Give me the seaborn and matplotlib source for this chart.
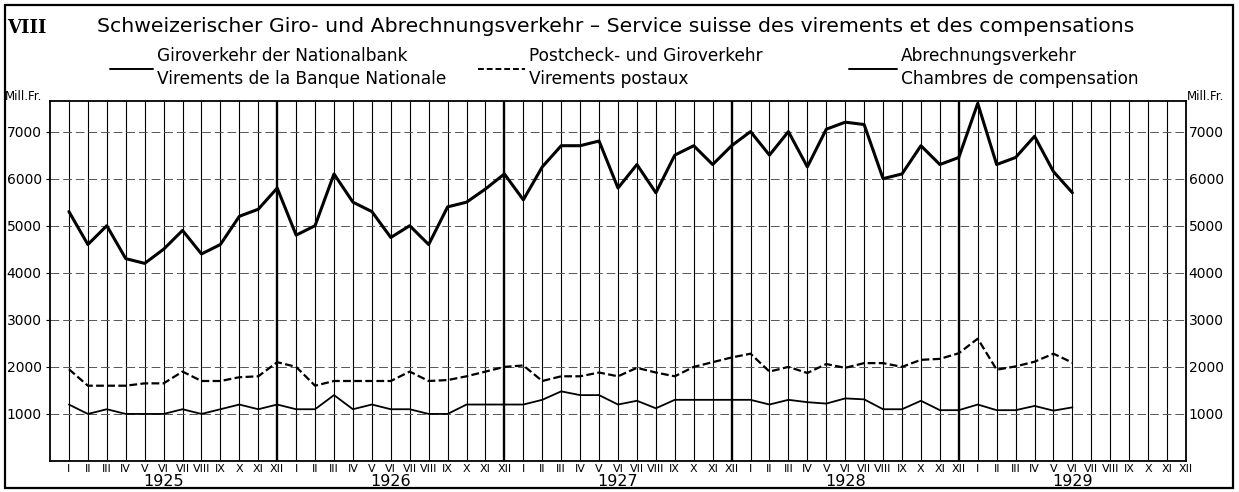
"""
Schweizerischer Giro- und Abrechnungsverkehr 1925-1929
monthly turnover, Mill. Fr.
"""

import numpy as np
import pandas as pd
import matplotlib
matplotlib.use("Agg")
import matplotlib.pyplot as plt
import seaborn as sns
from matplotlib.lines import Line2D
from matplotlib.patches import Rectangle

# -------------------------------
# DATA  (Jan 1925 - Jun 1929)
# -------------------------------
years = [1925, 1926, 1927, 1928, 1929]
months = ["I", "II", "III", "IV", "V", "VI", "VII", "VIII", "IX", "X", "XI", "XII"]

giro_nationalbank = [
    5300, 4600, 5000, 4300, 4200, 4500, 4900, 4400, 4600, 5200, 5350, 5800,
    4800, 5000, 6100, 5500, 5300, 4750, 5000, 4600, 5400, 5500, 5780, 6100,
    5550, 6250, 6700, 6700, 6800, 5800, 6300, 5700, 6500, 6700, 6300, 6700,
    7000, 6500, 7000, 6250, 7050, 7200, 7150, 6000, 6100, 6700, 6300, 6450,
    7600, 6300, 6450, 6900, 6150, 5700,
]

postcheck = [
    1950, 1600, 1600, 1600, 1650, 1650, 1900, 1700, 1700, 1780, 1800, 2100,
    2000, 1600, 1700, 1700, 1700, 1700, 1900, 1700, 1720, 1800, 1900, 2000,
    2030, 1700, 1800, 1800, 1880, 1800, 1980, 1880, 1800, 2000, 2100, 2200,
    2280, 1900, 2000, 1870, 2060, 1980, 2080, 2080, 2000, 2150, 2170, 2290,
    2600, 1940, 2010, 2110, 2280, 2090,
]

abrechnung = [
    1200, 1000, 1100, 1000, 1000, 1000, 1100, 1000, 1100, 1200, 1100, 1200,
    1100, 1100, 1400, 1100, 1200, 1100, 1100, 1000, 1000, 1200, 1200, 1200,
    1200, 1300, 1480, 1400, 1400, 1200, 1280, 1120, 1300, 1300, 1300, 1300,
    1300, 1200, 1300, 1250, 1220, 1330, 1310, 1100, 1100, 1280, 1080, 1080,
    1200, 1080, 1080, 1170, 1070, 1140,
]

y_ticks = [1000, 2000, 3000, 4000, 5000, 6000, 7000]

df = pd.DataFrame({
    "month": np.arange(len(giro_nationalbank)),
    "giro": giro_nationalbank,
    "post": postcheck,
    "abr": abrechnung,
})

# -------------------------------
# FIGURE
# -------------------------------
sns.set_style("white")
plt.rcParams["font.family"] = ["DejaVu Sans"]
plt.rcParams["text.color"] = "black"
plt.rcParams["xtick.color"] = "black"
plt.rcParams["ytick.color"] = "black"

W, H = 1239, 492
fig = plt.figure(figsize=(W / 100, H / 100), dpi=100)
ax = fig.add_axes([50 / W, 31 / H, 1136 / W, 360 / H])

n_total = len(years) * 12
ax.set_xlim(-1, n_total - 1)
ax.set_ylim(0, 7650)

# month grid, heavier line at year end
for m in range(n_total - 1):
    ax.axvline(m, color="black", lw=1.7 if m % 12 == 11 else 0.8, zorder=1)

for v in y_ticks:
    ax.axhline(v, color="#555555", lw=0.7, ls=(0, (9, 4)), zorder=1)

sns.lineplot(data=df, x="month", y="giro", ax=ax, color="black", lw=2.2, zorder=4)
sns.lineplot(data=df, x="month", y="post", ax=ax, color="black", lw=1.6, zorder=4)
ax.lines[-1].set_linestyle((0, (3.5, 1.5)))
sns.lineplot(data=df, x="month", y="abr", ax=ax, color="black", lw=1.3, zorder=4)

for s in ax.spines.values():
    s.set_color("black")
    s.set_linewidth(1.3)

ax.set_xlabel("")
ax.set_ylabel("")
ax.set_xticks(range(n_total))
ax.set_xticklabels(months * len(years), fontsize=8)
ax.tick_params(axis="x", length=0, pad=2)
ax.set_yticks(y_ticks)
ax.set_yticklabels([str(v) for v in y_ticks], fontsize=10)
ax.tick_params(axis="y", length=3, pad=3)

ax2 = ax.twinx()
ax2.set_ylim(ax.get_ylim())
ax2.set_yticks(y_ticks)
ax2.set_yticklabels([str(v) for v in y_ticks], fontsize=10)
ax2.tick_params(axis="y", length=0, pad=2)
for s in ax2.spines.values():
    s.set_visible(False)

for i, yr in enumerate(years):
    ax.text(12 * i + 5, -20 / 360, str(yr), transform=ax.get_xaxis_transform(),
            ha="center", va="center", fontsize=11.5)

# -------------------------------
# TITLE + LEGEND
# -------------------------------
renderer = fig.canvas.get_renderer()


def put(x, y, s, width=None, **kw):
    t = fig.text(x / W, 1 - y / H, s, va="center", ha="left", **kw)
    if width:
        bb = t.get_window_extent(renderer)
        t.set_fontsize(t.get_fontsize() * width / bb.width)
    return t


put(7, 28, "VIII", fontsize=13, fontweight="bold", family="DejaVu Serif")
put(97, 27, "Schweizerischer Giro- und Abrechnungsverkehr \u2013 "
    "Service suisse des virements et des compensations", width=1040, fontsize=14)

# legend font size taken from the width of the first French line
probe = put(0, -50, "Virements de la Banque Nationale", width=291, fontsize=10)
legend_size = probe.get_fontsize()
probe.remove()

legend_items = [
    (110, 153, "-", "Giroverkehr der Nationalbank", "Virements de la Banque Nationale"),
    (478, 525, (0, (3, 1.5)), "Postcheck- und Giroverkehr", "Virements postaux"),
    (849, 897, "-", "Abrechnungsverkehr", "Chambres de compensation"),
]
for x0, x1, ls, de, fr in legend_items:
    fig.add_artist(Line2D([x0 / W, x1 / W], [1 - 69 / H] * 2, color="black",
                          lw=1.4, ls=ls))
    put(x1 + 4, 56, de, fontsize=legend_size)
    put(x1 + 4, 79, fr, fontsize=legend_size)

put(5, 96, "Mill.Fr.", fontsize=8.5)
put(1187, 96, "Mill.Fr.", fontsize=8.5)

# outer frame
fig.add_artist(Rectangle((5 / W, 4 / H), 1228 / W, 483 / H, transform=fig.transFigure,
                         fill=False, edgecolor="black", lw=1.6))

fig.savefig("out.png", dpi=100)
